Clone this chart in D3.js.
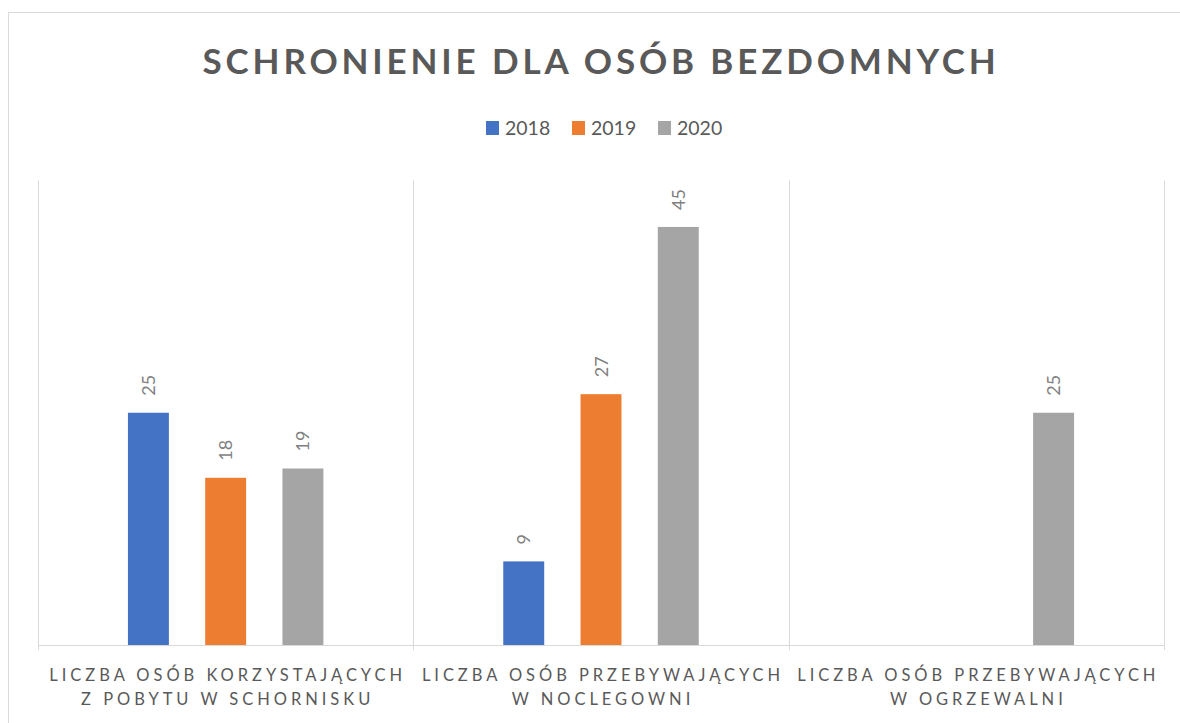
<!DOCTYPE html>
<html>
<head>
<meta charset="utf-8">
<script src="https://cdn.jsdelivr.net/npm/d3@7"></script>
<style>
  html, body { margin: 0; padding: 0; background: #fff; }
  svg { display: block; font-family: Lato, "Open Sans", sans-serif; }
</style>
</head>
<body>
<svg id="chart" width="1180" height="723"></svg>
<script>
"use strict";

// ===== Data =====
const title = "SCHRONIENIE DLA OSÓB BEZDOMNYCH";
const years = ["2018", "2019", "2020"];
const categories = [
  ["LICZBA OSÓB KORZYSTAJĄCYCH", "Z POBYTU W SCHORNISKU"],
  ["LICZBA OSÓB PRZEBYWAJĄCYCH", "W NOCLEGOWNI"],
  ["LICZBA OSÓB PRZEBYWAJĄCYCH", "W OGRZEWALNI"]
];
const values2018 = [25, 9, null];
const values2019 = [18, 27, null];
const values2020 = [19, 45, 25];
const colors = ["#4472c4", "#ed7d31", "#a5a5a5"];
const yMax = 50;

const series = [values2018, values2019, values2020];

// ===== Layout =====
const svg = d3.select("#chart");
const plot = { left: 38, right: 1164, top: 180.5, bottom: 645 };

// chart border (extends past right/bottom edge like the screenshot)
svg.append("rect")
  .attr("x", 8.5).attr("y", 12.5)
  .attr("width", 1200).attr("height", 730)
  .attr("fill", "none")
  .attr("stroke", "#d9d9d9");

// ===== Scales =====
const x0 = d3.scaleBand()
  .domain(d3.range(categories.length))
  .range([plot.left, plot.right])
  .padding(0);

const x1 = d3.scaleBand()
  .domain(years)
  .range([0, x0.bandwidth()])
  .paddingInner(0.47)
  .paddingOuter(1.164);

const y = d3.scaleLinear()
  .domain([0, yMax])
  .range([plot.bottom, plot.top]);

// ===== Gridlines (category separators) =====
const bounds = d3.range(categories.length + 1).map(i =>
  i < categories.length ? x0(i) : x0(i - 1) + x0.bandwidth());
svg.append("g")
  .selectAll("line")
  .data(bounds)
  .join("line")
  .attr("x1", d => Math.round(d) + 0.5)
  .attr("x2", d => Math.round(d) + 0.5)
  .attr("y1", plot.top)
  .attr("y2", plot.bottom + 5)
  .attr("stroke", "#d9d9d9");

// ===== Bars =====
const cells = [];
categories.forEach((c, ci) => {
  years.forEach((yr, si) => {
    const v = series[si][ci];
    if (v != null) cells.push({ ci, si, yr, v });
  });
});

svg.append("g")
  .selectAll("rect")
  .data(cells)
  .join("rect")
  .attr("x", d => x0(d.ci) + x1(d.yr))
  .attr("y", d => y(d.v))
  .attr("width", x1.bandwidth())
  .attr("height", d => y(0) - y(d.v))
  .attr("fill", d => colors[d.si]);

// data labels, rotated
svg.append("g")
  .selectAll("text")
  .data(cells)
  .join("text")
  .attr("transform", d => {
    const cx = x0(d.ci) + x1(d.yr) + x1.bandwidth() / 2;
    return `translate(${cx + 6.5},${y(d.v) - 17}) rotate(-90)`;
  })
  .attr("font-size", 18)
  .attr("fill", "#7f7f7f")
  .attr("text-anchor", "start")
  .text(d => d.v);

// baseline
svg.append("line")
  .attr("x1", plot.left).attr("x2", plot.right)
  .attr("y1", plot.bottom + 0.5).attr("y2", plot.bottom + 0.5)
  .attr("stroke", "#d9d9d9");

// ===== Category labels =====
const catG = svg.append("g")
  .selectAll("text")
  .data(categories)
  .join("text")
  .attr("text-anchor", "middle")
  .attr("font-size", 16.5)
  .attr("letter-spacing", 3.95)
  .attr("fill", "#595959");
catG.selectAll("tspan")
  .data((d, i) => d.map(line => ({ line, i })))
  .join("tspan")
  .attr("x", d => x0(d.i) + x0.bandwidth() / 2 + 2)
  .attr("y", (d, j) => 681 + j * 24)
  .text(d => d.line);

// ===== Title =====
svg.append("text")
  .attr("x", 601)
  .attr("y", 74)
  .attr("text-anchor", "middle")
  .attr("font-size", 35)
  .attr("font-weight", "bold")
  .attr("letter-spacing", 3.85)
  .attr("fill", "#595959")
  .text(title);

// ===== Legend =====
const legendX = [486, 572, 658];
const legend = svg.append("g")
  .selectAll("g")
  .data(years)
  .join("g")
  .attr("transform", (d, i) => `translate(${legendX[i]},121)`);
legend.append("rect")
  .attr("width", 13).attr("height", 14)
  .attr("fill", (d, i) => colors[i]);
legend.append("text")
  .attr("x", 19).attr("y", 14)
  .attr("font-size", 19.5)
  .attr("fill", "#595959")
  .text(d => d);
</script>
</body>
</html>
